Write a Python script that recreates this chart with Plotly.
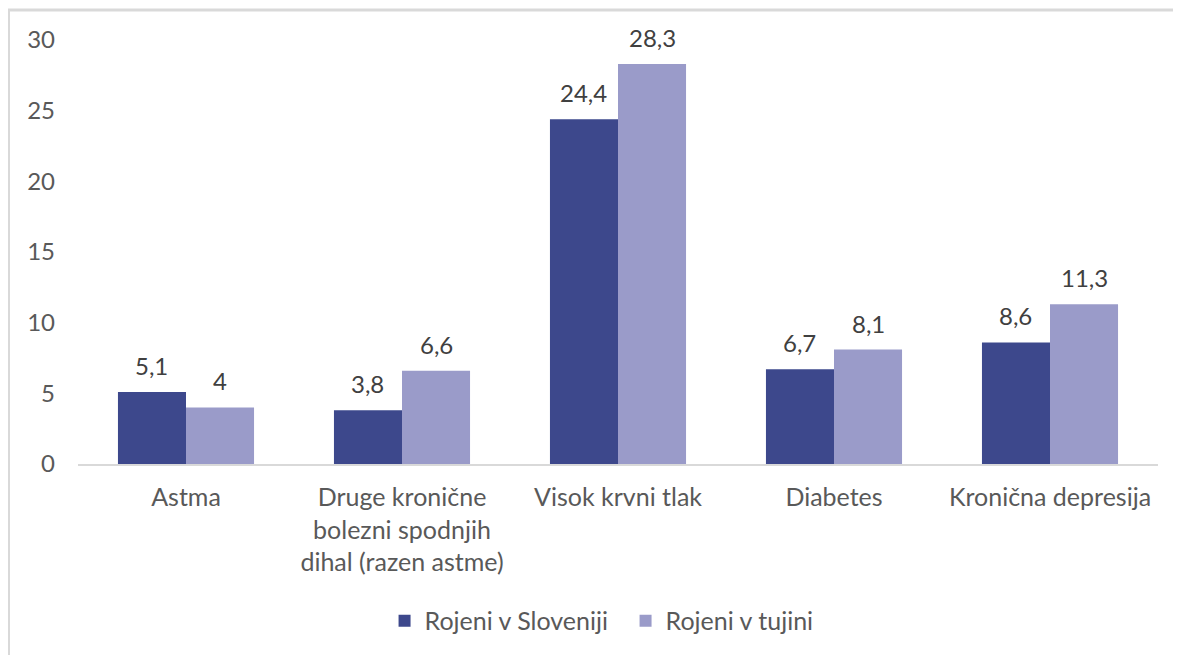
import plotly.graph_objects as go

categories = ["Astma", "Druge kronične<br>bolezni spodnjih<br>dihal (razen astme)",
              "Visok krvni tlak", "Diabetes", "Kronična depresija"]
series_names = ["Rojeni v Sloveniji", "Rojeni v tujini"]
slo_values = [5.1, 3.8, 24.4, 6.7, 8.6]
tuj_values = [4.0, 6.6, 28.3, 8.1, 11.3]
y_ticks = [0, 5, 10, 15, 20, 25, 30]

colors = ["#3D488C", "#9A9BC9"]
FONT = "Lato"
W, H = 1181, 655
ML, MR, MT, MB = 70, 31, 32, 199
PW, PH = W - ML - MR, H - MT - MB

def fmt(v):
    s = f"{v:.1f}".replace(".", ",")
    return s[:-2] if s.endswith(",0") else s

fig = go.Figure()
for name, vals, col in zip(series_names, [slo_values, tuj_values], colors):
    fig.add_trace(go.Bar(x=categories, y=vals, name=name,
                         marker=dict(color=col, line=dict(width=0))))

bargap = 0.37
cat_px = PW / len(categories)
bar_px = cat_px * (1 - bargap) / 2

annotations = []
for k, vals in enumerate([slo_values, tuj_values]):
    shift = (-0.5 + k) * bar_px
    for c, v in zip(categories, vals):
        annotations.append(dict(x=c, y=v, xref="x", yref="y", text=fmt(v),
                                showarrow=False, yanchor="bottom", xshift=shift,
                                yshift=10, font=dict(family=FONT, size=24, color="#404040")))

fig.update_layout(
    width=W, height=H,
    margin=dict(l=ML, r=MR, t=MT, b=MB),
    paper_bgcolor="white", plot_bgcolor="white",
    barmode="group", bargap=bargap, bargroupgap=0,
    font=dict(family=FONT, size=25, color="#595959"),
    showlegend=True,
    legend=dict(orientation="h", x=0.507, xanchor="center", y=-0.37, yanchor="middle",
                font=dict(family=FONT, size=25, color="#595959"),
                itemwidth=30, entrywidth=196, traceorder="normal"),
    annotations=annotations,
    shapes=[dict(type="rect", xref="paper", yref="paper",
                 x0=(0.5 - ML) / PW, x1=1.2,
                 y0=-1.0, y1=(H - MB - 2) / PH,
                 line=dict(color="#D9D9D9", width=3), layer="below")],
)
fig.update_yaxes(range=[0, 30], tickvals=y_ticks, showgrid=False, zeroline=False,
                 showline=False, ticks="", ticklabelstandoff=22,
                 tickfont=dict(family=FONT, size=24, color="#595959"))
fig.update_xaxes(showgrid=False, showline=True, linecolor="#D9D9D9", linewidth=2,
                 ticks="", ticklabelstandoff=10,
                 tickfont=dict(family=FONT, size=25, color="#595959"))

fig.write_html("out.html")
